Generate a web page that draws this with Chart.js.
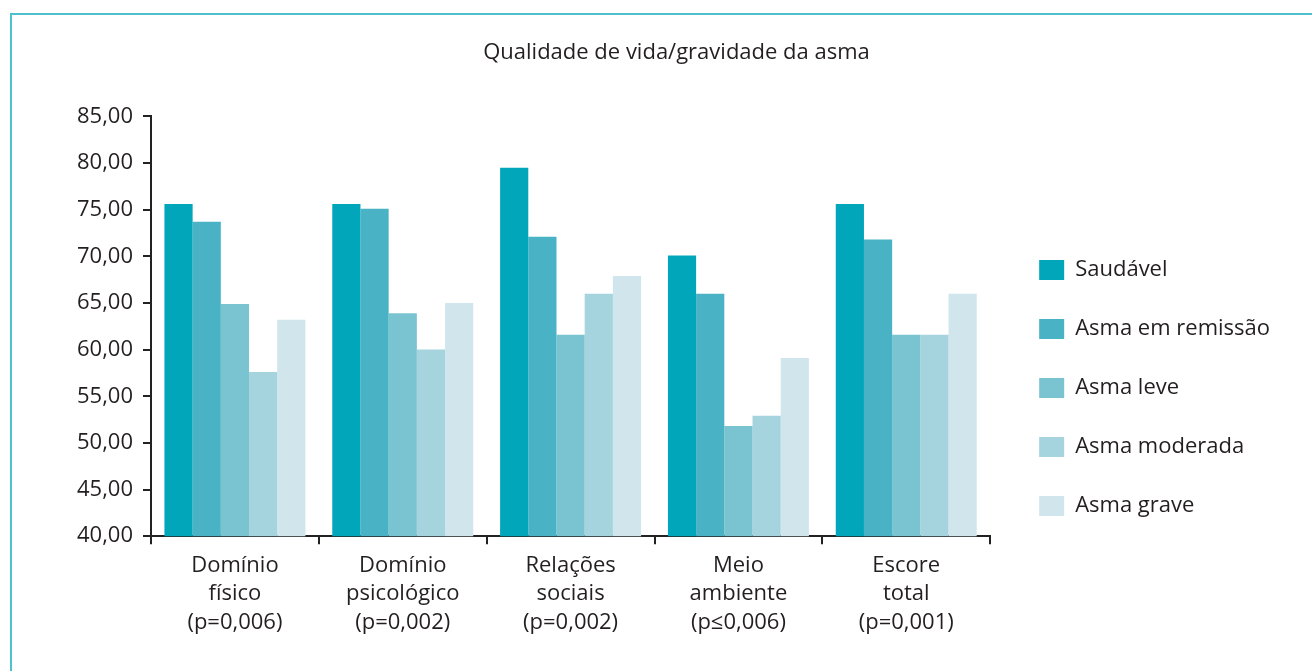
<!DOCTYPE html>
<html>
<head>
<meta charset="utf-8">
<script src="https://cdn.jsdelivr.net/npm/chart.js@4.4.1/dist/chart.umd.min.js"></script>
<style>
  html, body { margin: 0; padding: 0; background: #fff; }
  #wrap { position: relative; width: 1312px; height: 671px; }
  #frame { position: absolute; left: 10px; top: 13px; width: 1320px; height: 700px;
           border-left: 2px solid #4fc1cd; border-top: 2px solid #4fc1cd; }
  canvas { position: absolute; left: 0; top: 0; }
</style>
</head>
<body>
<div id="wrap">
  <div id="frame"></div>
  <canvas id="qvChart" width="1312" height="671"></canvas>
</div>
<script>
// categorias e séries
const categorias = [
    ['Domínio', 'físico', '(p=0,006)'],
    ['Domínio', 'psicológico', '(p=0,002)'],
    ['Relações', 'sociais', '(p=0,002)'],
    ['Meio', 'ambiente', '(p≤0,006)'],
    ['Escore', 'total', '(p=0,001)']
];
const saudavel = [75.6, 75.6, 79.5, 70.1, 75.6];
const remissao = [73.7, 75.1, 72.1, 66.0, 71.8];
const leve = [64.9, 63.9, 61.6, 51.8, 61.6];
const moderada = [57.6, 60.0, 66.0, 52.9, 61.6];
const grave = [63.2, 65.0, 67.9, 59.1, 66.0];
const yMin = 40, yMax = 85, yStep = 5;

const fonte = "'Open Sans', sans-serif";
const corTexto = '#231f20';

// ajusta a posição da legenda e do título
const ajustaPosicoes = {
    id: 'ajustaPosicoes',
    afterLayout(chart) {
        const lg = chart.legend;
        lg.top += 46; lg.bottom += 46;
        lg.left += 12; lg.right += 12;
        const tt = chart.titleBlock;
        tt.left += 9; tt.right += 9;
    }
};

const ctx = document.getElementById('qvChart').getContext('2d');
new Chart(ctx, {
    type: 'bar',
    data: {
        labels: categorias,
        datasets: [
            { label: 'Saudável', data: saudavel, backgroundColor: '#02a6bb' },
            { label: 'Asma em remissão', data: remissao, backgroundColor: '#49b3c5' },
            { label: 'Asma leve', data: leve, backgroundColor: '#7ac3d0' },
            { label: 'Asma moderada', data: moderada, backgroundColor: '#a5d4df' },
            { label: 'Asma grave', data: grave, backgroundColor: '#d0e6ec' }
        ]
    },
    options: {
        responsive: false,
        animation: false,
        datasets: { bar: { categoryPercentage: 0.84, barPercentage: 1.0 } },
        layout: { padding: { top: 40, left: 67, right: 44, bottom: 27 } },
        plugins: {
            title: {
                display: true,
                text: 'Qualidade de vida/gravidade da asma',
                color: corTexto,
                font: { family: fonte, size: 22, weight: 'normal', lineHeight: 1.2 },
                padding: { top: 0, bottom: 50 }
            },
            legend: {
                position: 'right',
                labels: {
                    color: corTexto,
                    font: { family: fonte, size: 22 },
                    boxWidth: 25,
                    boxHeight: 20,
                    padding: 37
                }
            },
            tooltip: { enabled: false }
        },
        scales: {
            x: {
                border: { display: true, color: '#222', width: 2 },
                grid: { display: true, offset: true, drawOnChartArea: false, color: '#222', tickLength: 8, lineWidth: 2 },
                ticks: { color: corTexto, font: { family: fonte, size: 22, lineHeight: 1.3 }, maxRotation: 0, padding: 7 }
            },
            y: {
                min: yMin,
                max: yMax,
                border: { display: true, color: '#222', width: 2 },
                grid: { display: true, drawOnChartArea: false, color: '#222', tickLength: 8, lineWidth: 2 },
                ticks: {
                    stepSize: yStep,
                    color: corTexto,
                    font: { family: fonte, size: 22 },
                    padding: 10,
                    callback: v => v.toFixed(2).replace('.', ',')
                }
            }
        }
    },
    plugins: [ajustaPosicoes]
});
</script>
</body>
</html>
